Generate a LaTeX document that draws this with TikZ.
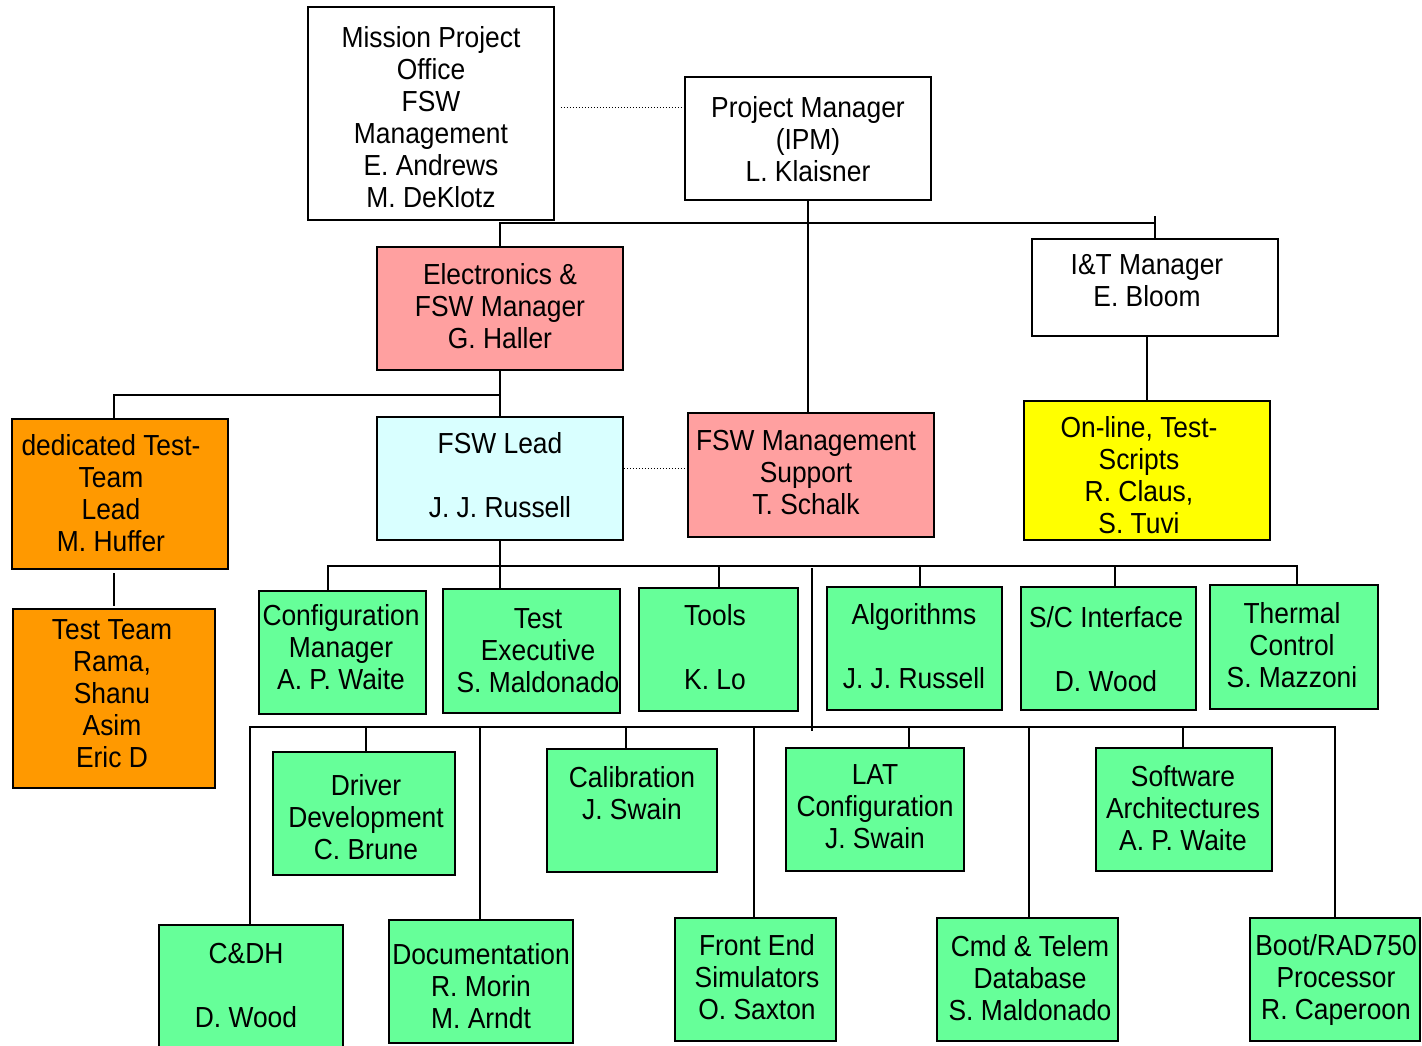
\documentclass[tikz,border=0pt]{standalone}
\usepackage{fontspec}
\setmainfont{Liberation Sans}[FakeStretch=0.91]
\definecolor{pinkc}{RGB}{255,160,160}
\definecolor{greenc}{RGB}{102,255,153}
\definecolor{orangec}{RGB}{255,153,0}
\definecolor{cyanc}{RGB}{217,255,255}
\definecolor{yellowc}{RGB}{255,255,0}
\tikzset{
  box/.style={draw=black, line width=1.9pt, inner sep=0pt},
  txt/.style={align=center, inner sep=0pt, font=\fontsize{29}{32}\selectfont},
  link/.style={draw=black, line width=2pt},
  dotl/.style={draw=black, line width=1pt, dotted}
}
\begin{document}
\begin{tikzpicture}[x=1pt,y=-1pt]
\useasboundingbox (0,0) rectangle (1422,1045);
\fill[white] (0,0) rectangle (1422,1045);
% boxes
\node[box, fill=white, minimum width=246, minimum height=213] (mission) at (431,113.5) {};
\node[box, fill=white, minimum width=246, minimum height=123] (pm) at (808,138.5) {};
\node[box, fill=pinkc, minimum width=246, minimum height=123] (elec) at (500,308.5) {};
\node[box, fill=white, minimum width=246, minimum height=97] (itm) at (1155,287.5) {};
\node[box, fill=orangec, minimum width=216, minimum height=150] (dtl) at (120,494) {};
\node[box, fill=orangec, minimum width=202, minimum height=179] (tt) at (114,698.5) {};
\node[box, fill=cyanc, minimum width=246, minimum height=123] (fswlead) at (500,478.5) {};
\node[box, fill=pinkc, minimum width=246, minimum height=124] (fswms) at (811,475) {};
\node[box, fill=yellowc, minimum width=246, minimum height=139] (online) at (1147,470.5) {};
\node[box, fill=greenc, minimum width=167, minimum height=123] (cfg) at (342.5,652.5) {};
\node[box, fill=greenc, minimum width=177, minimum height=124] (texec) at (531.5,651) {};
\node[box, fill=greenc, minimum width=159, minimum height=123] (tools) at (718.5,649.5) {};
\node[box, fill=greenc, minimum width=175, minimum height=123] (algo) at (914.5,648.5) {};
\node[box, fill=greenc, minimum width=175, minimum height=123] (sci) at (1108.5,648.5) {};
\node[box, fill=greenc, minimum width=168, minimum height=124] (thermal) at (1294,647) {};
\node[box, fill=greenc, minimum width=182, minimum height=123] (driver) at (364,813.5) {};
\node[box, fill=greenc, minimum width=170, minimum height=123] (calib) at (632,810.5) {};
\node[box, fill=greenc, minimum width=178, minimum height=123] (latc) at (875,809.5) {};
\node[box, fill=greenc, minimum width=176, minimum height=123] (swa) at (1184,809.5) {};
\node[box, fill=greenc, minimum width=184, minimum height=135] (cdh) at (251,992.5) {};
\node[box, fill=greenc, minimum width=184, minimum height=123] (doc) at (481,981.5) {};
\node[box, fill=greenc, minimum width=161, minimum height=123] (fe) at (755.5,979.5) {};
\node[box, fill=greenc, minimum width=181, minimum height=123] (cmd) at (1027.5,979.5) {};
\node[box, fill=greenc, minimum width=170, minimum height=123] (boot) at (1335,979.5) {};
% texts
\node[txt] (mission-t) at (431,117) {Mission Project\\Office\\FSW\\Management\\E. Andrews\\M. DeKlotz};
\node[txt] (pm-t) at (808,139) {Project Manager\\(IPM)\\L. Klaisner};
\node[txt] (elec-t) at (500,306) {Electronics \&\\FSW Manager\\G. Haller};
\node[txt] (itm-t) at (1147,281) {I\&T Manager\\E. Bloom};
\node[txt] (dtl-t) at (111,493) {dedicated Test-\\Team\\Lead\\M. Huffer};
\node[txt] (tt-t) at (112,694) {Test Team\\Rama,\\Shanu\\Asim\\Eric D};
\node[txt] (fswlead-t) at (500,475) {FSW Lead\\\mbox{}\\J. J. Russell};
\node[txt] (fswms-t) at (806,472.5) {FSW Management\\Support\\T. Schalk};
\node[txt] (online-t) at (1139,475) {On-line, Test-\\Scripts\\R. Claus,\\S. Tuvi};
\node[txt] (cfg-t) at (341,647) {Configuration\\Manager\\A. P. Waite};
\node[txt] (texec-t) at (538,651) {Test\\Executive\\S. Maldonado};
\node[txt] (tools-t) at (715,647) {Tools\\\mbox{}\\K. Lo};
\node[txt] (algo-t) at (914,646) {Algorithms\\\mbox{}\\J. J. Russell};
\node[txt] (sci-t) at (1106,649) {S/C Interface\\\mbox{}\\D. Wood};
\node[txt] (thermal-t) at (1292,645) {Thermal\\Control\\S. Mazzoni};
\node[txt] (driver-t) at (366,817) {Driver\\Development\\C. Brune};
\node[txt] (calib-t) at (632,793) {Calibration\\J. Swain};
\node[txt] (latc-t) at (875,807) {LAT\\Configuration\\J. Swain};
\node[txt] (swa-t) at (1183,808) {Software\\Architectures\\A. P. Waite};
\node[txt] (cdh-t) at (246,986) {C\&DH\\\mbox{}\\D. Wood};
\node[txt] (doc-t) at (481,986) {Documentation\\R. Morin\\M. Arndt};
\node[txt] (fe-t) at (757,977) {Front End\\Simulators\\O. Saxton};
\node[txt] (cmd-t) at (1030,978) {Cmd \& Telem\\Database\\S. Maldonado};
\node[txt] (boot-t) at (1336,980) {Boot/RAD750\\Processor\\R. Caperoon};
% reference coordinates
\coordinate (mpdot) at (0,107);
\coordinate (bus1) at (0,223);
\coordinate (itmtop) at (1155,216);
\coordinate (bus2) at (0,395);
\coordinate (dtlx) at (114,0);
\coordinate (tta) at (114,573);
\coordinate (ttb) at (114,606);
\coordinate (fldot) at (0,468);
\coordinate (bus3) at (0,566);
\coordinate (v3a) at (812,568);
\coordinate (v3b) at (812,731);
\coordinate (bus4) at (0,727);
% connectors
\draw[dotl] ([xshift=6pt]mission.east |- mpdot) -- (pm.west |- mpdot);
\draw[link] (elec.north) -- (elec.north |- bus1) -- (itm.north |- bus1);
\draw[link] (itm.north) -- (itmtop);
\draw[link] (pm.south) -- (pm.south |- fswms.north);
\draw[link] (elec.south) -- (fswlead.north);
\draw[link] (elec.south |- bus2) -- (dtlx |- bus2) -- (dtlx |- dtl.north);
\draw[link] (tta) -- (ttb);
\draw[link] (itm.south -| online.north) -- (online.north);
\draw[dotl] (fswlead.east |- fldot) -- (fswms.west |- fldot);
% bus 3
\draw[link] (fswlead.south) -- (fswlead.south |- texec.north);
\draw[link] ([xshift=-14.5pt]cfg.north) -- ([xshift=-14.5pt]cfg.north |- bus3) -- ([xshift=3pt]thermal.north |- bus3) -- ([xshift=3pt]thermal.north);
\draw[link] (tools.north) -- (tools.north |- bus3);
\draw[link] ([xshift=5.5pt]algo.north) -- ([xshift=5.5pt]algo.north |- bus3);
\draw[link] ([xshift=6.5pt]sci.north) -- ([xshift=6.5pt]sci.north |- bus3);
\draw[link] (v3a) -- (v3b);
% bus 4
\draw[link] ([xshift=-1pt]cdh.north) -- ([xshift=-1pt]cdh.north |- bus4) -- (boot.north |- bus4) -- (boot.north);
\draw[link] ([xshift=2pt]driver.north) -- ([xshift=2pt]driver.north |- bus4);
\draw[link] ([xshift=-6pt]calib.north) -- ([xshift=-6pt]calib.north |- bus4);
\draw[link] ([xshift=34pt]latc.north) -- ([xshift=34pt]latc.north |- bus4);
\draw[link] ([xshift=-1pt]swa.north) -- ([xshift=-1pt]swa.north |- bus4);
\draw[link] ([xshift=-1pt]doc.north) -- ([xshift=-1pt]doc.north |- bus4);
\draw[link] ([xshift=-1.5pt]fe.north) -- ([xshift=-1.5pt]fe.north |- bus4);
\draw[link] ([xshift=1.5pt]cmd.north) -- ([xshift=1.5pt]cmd.north |- bus4);
\end{tikzpicture}
\end{document}
